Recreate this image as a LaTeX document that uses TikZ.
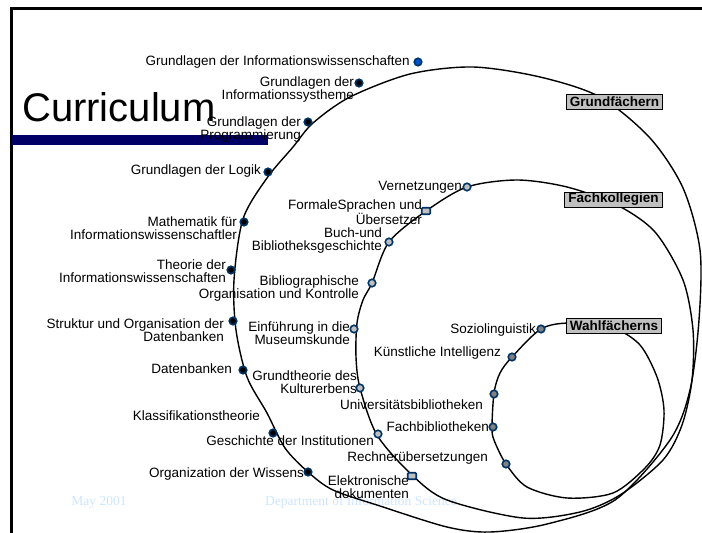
\documentclass[tikz,border=0pt]{standalone}
\usepackage{fontspec}
\setmainfont{Liberation Sans}
\newfontfamily\fussschrift{Liberation Serif}
\definecolor{rand}{HTML}{003366}
\definecolor{balken}{HTML}{000066}
\definecolor{fuss}{HTML}{CCE5FF}
\definecolor{kasten}{HTML}{C0C0C0}
\definecolor{blaupunkt}{HTML}{0050C8}
\tikzset{
  punkt/.style={circle, draw=rand, line width=1.6pt, inner sep=0pt, minimum size=7.5pt},
  gpunkt/.style={punkt, fill=black},
  fpunkt/.style={punkt, fill=gray!50},
  wpunkt/.style={punkt, fill=gray},
  eckig/.style={rectangle, rounded corners=1pt, minimum width=8.5pt, minimum height=6.5pt},
  txt/.style={font=\fontsize{13.5}{13}\selectfont, align=right, inner sep=0pt, anchor=east},
  kurve/.style={line width=1.4pt, black},
  stufe/.style={draw=black, line width=1pt, fill=kasten, font=\bfseries\fontsize{13.5}{14}\selectfont,
    inner xsep=3.5pt, inner ysep=1pt, minimum height=15pt},
  fusstext/.style={text=fuss, font=\fussschrift\fontsize{13.5}{14}\selectfont, inner sep=0pt}
}
\begin{document}
\begin{tikzpicture}[x=1pt,y=-1pt]
  \useasboundingbox (0,0) rectangle (702,533);
  % Rahmen der Folie
  \draw[line width=3pt] (11.5,533) -- (11.5,8.5) -- (702,8.5);
  % Titel mit Balken
  \fill[balken] (12,135) rectangle (268,145);
  \node[font=\fontsize{40}{40}\selectfont, inner sep=0pt, anchor=base west] (titel) at (22,121) {Curriculum};
  % Fusszeile
  \node[fusstext] (datum) at (99,502) {May 2001};
  \node[fusstext, anchor=west] (abteilung) at (265,502) {Department of Information Science};
  % Die drei Kurven
  \draw[kurve] plot[smooth cycle] coordinates {(473,67) (540,77) (600,97) (650,138) (683,188) (700,250)
    (699,320) (690,390) (670,440) (615,500) (547,524) (490,532) (447,527) (380,506) (333,490) (308,472)
    (285,448) (267,413) (247,377) (236,330) (234,280) (243,219) (267,178) (293,147) (313,123) (350,97) (410,74)};
  \draw[kurve] plot[smooth cycle] coordinates {(467,187) (517,180) (567,187) (617,205) (655,232) (683,280)
    (693,330) (692,380) (682,425) (663,460) (620,495) (580,512) (523,518) (447,500) (412,475) (377,435)
    (360,388) (356,357) (357,323) (363,300) (372,283) (389,242) (426,211)};
  \draw[kurve] plot[smooth cycle] coordinates {(541,329) (570,323) (613,328) (640,345) (657,377) (664,410)
    (660,445) (645,468) (613,493) (567,498) (527,487) (506,464) (494,440) (492,427) (494,393) (500,373) (512,357)};
  % Kaesten
  \node[stufe] (grund) at (614.5,101.5) {Grundfächern};
  \node[stufe] (fach) at (613.5,199.5) {Fachkollegien};
  \node[stufe] (wahl) at (614,325.5) {Wahlfächerns};
  % Grundfaecher
  \node[gpunkt, fill=blaupunkt] (g1) at (418,62) {};
  \node[gpunkt] (g2) at (359,83) {};
  \node[gpunkt] (g3) at (308,122) {};
  \node[gpunkt] (g4) at (268,172) {};
  \node[gpunkt] (g5) at (244,222) {};
  \node[gpunkt] (g6) at (231,270) {};
  \node[gpunkt] (g7) at (233,321) {};
  \node[gpunkt] (g8) at (243,370) {};
  \node[gpunkt] (g9) at (273,433) {};
  \node[gpunkt] (g10) at (308,472) {};
  \node[txt] (tg1) at (410,62) {Grundlagen der Informationswissenschaften};
  \node[txt] (tg2) at (354,90) {Grundlagen der\\Informationssystheme};
  \node[txt] (tg3) at (301,130) {Grundlagen der\\Programmierung};
  \node[txt] (tg4) at (261,171) {Grundlagen der Logik};
  \node[txt] (tg5) at (237,228) {Mathematik für\\Informationswissenschaftler};
  \node[txt] (tg6) at (226,271) {Theorie der\\Informationswissenschaften};
  \node[txt] (tg7) at (224,330) {Struktur und Organisation der\\Datenbanken};
  \node[txt] (tg8) at (232,369) {Datenbanken};
  \node[txt] (tg9) at (260,416) {Klassifikationstheorie};
  \node[txt] (tg10) at (304,474) {Organization der Wissens};
  % Fachkollegien
  \node[fpunkt] (f1) at (467,187) {};
  \node[fpunkt, eckig] (f2) at (426,211) {};
  \node[fpunkt] (f3) at (389,242) {};
  \node[fpunkt] (f4) at (372,283) {};
  \node[fpunkt] (f5) at (354,329) {};
  \node[fpunkt] (f6) at (360,388) {};
  \node[fpunkt] (f7) at (378,434) {};
  \node[fpunkt, eckig] (f8) at (412,476) {};
  \node[txt] (tf1) at (462,187) {Vernetzungen};
  \node[txt] (tf2) at (422,212) {FormaleSprachen und\\Übersetzer};
  \node[txt] (tf3) at (382,241) {Buch-und\\Bibliotheksgeschichte};
  \node[txt] (tf4) at (359,289) {Bibliographische\\Organisation und Kontrolle};
  \node[txt] (tf5) at (350,333) {Einführung in die\\Museumskunde};
  \node[txt] (tf6) at (357,382) {Grundtheorie des\\Kulturerbens};
  \node[txt] (tf7) at (374,441) {Geschichte der Institutionen};
  \node[txt] (tf8) at (409,487) {Elektronische\\dokumenten};
  % Wahlfaecher
  \node[wpunkt] (w1) at (541,329) {};
  \node[wpunkt] (w2) at (512,357) {};
  \node[wpunkt] (w3) at (494,394) {};
  \node[wpunkt] (w4) at (493,427) {};
  \node[wpunkt] (w5) at (506,464) {};
  \node[txt] (tw1) at (536,330) {Soziolinguistik};
  \node[txt] (tw2) at (501,353) {Künstliche Intelligenz};
  \node[txt] (tw3) at (483,405) {Universitätsbibliotheken};
  \node[txt] (tw4) at (489,427) {Fachbibliotheken};
  \node[txt] (tw5) at (488,458) {Rechnerübersetzungen};
\end{tikzpicture}
\end{document}
